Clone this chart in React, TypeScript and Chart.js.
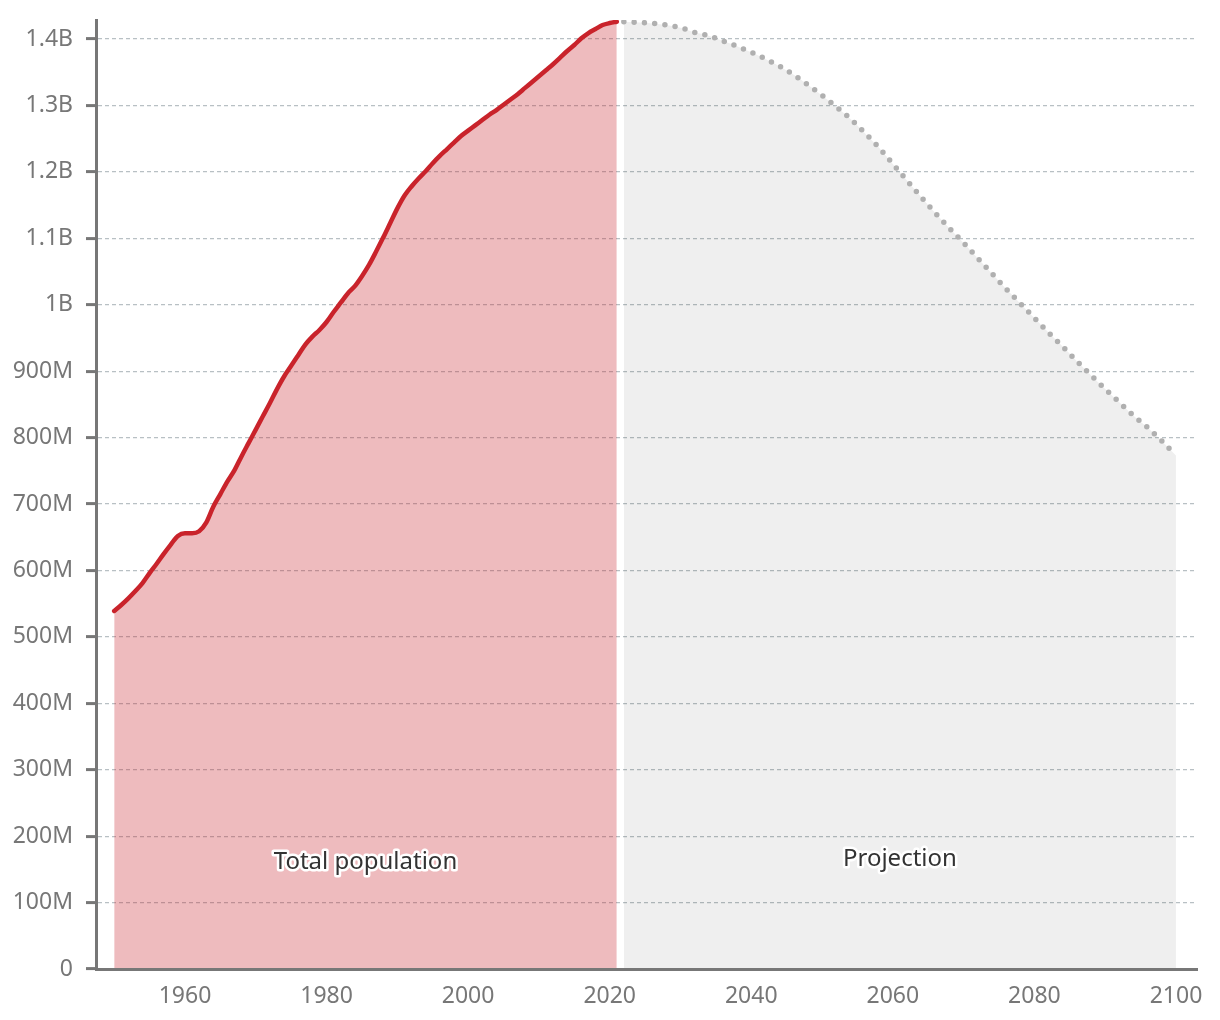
import React, { useEffect, useRef } from "react";
import { Chart, registerables } from "chart.js";

Chart.register(...registerables);

// Historical total population (millions), 1950–2021
const HIST_YEARS = [
  1950, 1951, 1952, 1953, 1954, 1955, 1956, 1957, 1958, 1959,
  1960, 1961, 1962, 1963, 1964, 1965, 1966, 1967, 1968, 1969,
  1970, 1971, 1972, 1973, 1974, 1975, 1976, 1977, 1978, 1979,
  1980, 1981, 1982, 1983, 1984, 1985, 1986, 1987, 1988, 1989,
  1990, 1991, 1992, 1993, 1994, 1995, 1996, 1997, 1998, 1999,
  2000, 2001, 2002, 2003, 2004, 2005, 2006, 2007, 2008, 2009,
  2010, 2011, 2012, 2013, 2014, 2015, 2016, 2017, 2018, 2019,
  2020, 2021,
];
const HIST_POP_M = [
  539, 548, 558, 569, 581, 596, 610, 625, 639, 652,
  656, 656, 659, 672, 696, 715, 734, 751, 772, 792,
  812, 832, 852, 873, 892, 908, 924, 940, 952, 962,
  974, 989, 1003, 1017, 1028, 1043, 1060, 1080, 1101, 1123,
  1145, 1164, 1178, 1190, 1201, 1213, 1224, 1234, 1244, 1254,
  1262, 1270, 1278, 1286, 1293, 1301, 1309, 1317, 1326, 1335,
  1344, 1353, 1362, 1372, 1382, 1391, 1401, 1409, 1415, 1421,
  1424, 1426,
];

// Projection (millions), 2022–2100
const PROJ_YEARS = [
  2022, 2025, 2028, 2030, 2032, 2034, 2036, 2038, 2040, 2042,
  2044, 2046, 2048, 2050, 2052, 2054, 2056, 2058, 2060, 2062,
  2064, 2066, 2068, 2070, 2072, 2074, 2076, 2078, 2080, 2082,
  2084, 2086, 2088, 2090, 2092, 2094, 2096, 2098, 2100,
];
const PROJ_POP_M = [
  1426, 1424.5, 1421, 1417, 1410, 1405, 1397, 1389, 1380, 1370,
  1359, 1346, 1331, 1315, 1298, 1280, 1259, 1237, 1212, 1187,
  1162, 1138, 1115, 1093, 1070, 1047, 1024, 1002, 980, 958,
  937, 915, 894, 873, 853, 833, 815, 795, 773,
];

const X_TICKS = [1960, 1980, 2000, 2020, 2040, 2060, 2080, 2100];
const Y_TICKS = [
  0, 100e6, 200e6, 300e6, 400e6, 500e6, 600e6, 700e6,
  800e6, 900e6, 1000e6, 1100e6, 1200e6, 1300e6, 1400e6,
];
const Y_TICK_LABELS = [
  "0", "100M", "200M", "300M", "400M", "500M", "600M", "700M",
  "800M", "900M", "1B", "1.1B", "1.2B", "1.3B", "1.4B",
];
const SERIES_LABELS = ["Total population", "Projection"];
const SERIES_LABEL_Y = [150e6, 155e6];

const X_MIN = 1947.43;
const X_MAX = 2102.97;
const Y_MAX = 1428.6e6;

const TICK_FONT = { family: "'Noto Sans', sans-serif", size: 23 };

const seriesLabelPlugin = {
  id: "seriesLabels",
  afterDatasetsDraw(chart: any) {
    const { ctx, scales } = chart;
    const ranges = [HIST_YEARS, PROJ_YEARS];
    ctx.save();
    ctx.font = "24px 'Noto Sans', sans-serif";
    ctx.textAlign = "center";
    ctx.textBaseline = "alphabetic";
    ctx.lineJoin = "round";
    SERIES_LABELS.forEach((text, i) => {
      const yrs = ranges[i];
      const mid = (yrs[0] + yrs[yrs.length - 1]) / 2;
      const x = scales.x.getPixelForValue(mid);
      const y = scales.y.getPixelForValue(SERIES_LABEL_Y[i]);
      ctx.strokeStyle = "#ffffff";
      ctx.lineWidth = 5;
      ctx.strokeText(text, x, y);
      ctx.fillStyle = "#333333";
      ctx.fillText(text, x, y);
    });
    ctx.restore();
  },
};

export default function App() {
  const canvasRef = useRef<HTMLCanvasElement | null>(null);

  useEffect(() => {
    document.body.style.margin = "0";
    const canvas = canvasRef.current;
    if (!canvas) return;

    const hist = HIST_YEARS.map((x, i) => ({ x, y: HIST_POP_M[i] * 1e6 }));
    const proj = PROJ_YEARS.map((x, i) => ({ x, y: PROJ_POP_M[i] * 1e6 }));

    const chart = new Chart(canvas, {
      type: "line",
      data: {
        datasets: [
          {
            label: SERIES_LABELS[1],
            data: proj,
            borderColor: "#b0b0b0",
            borderWidth: 5.5,
            borderDash: [0, 10.3],
            borderCapStyle: "round",
            backgroundColor: "rgba(0,0,0,0.062)",
            fill: "origin",
            pointRadius: 0,
            cubicInterpolationMode: "monotone",
          },
          {
            label: SERIES_LABELS[0],
            data: hist,
            borderColor: "#c9232b",
            borderWidth: 4.5,
            borderCapStyle: "round",
            borderJoinStyle: "round",
            backgroundColor: "rgba(200,35,44,0.31)",
            fill: "origin",
            pointRadius: 0,
            cubicInterpolationMode: "monotone",
          },
        ],
      },
      options: {
        responsive: false,
        animation: false,
        devicePixelRatio: 1,
        layout: { padding: { left: 0, right: 23, top: 20, bottom: 0 } },
        plugins: {
          legend: { display: false },
          tooltip: { enabled: false },
        },
        scales: {
          x: {
            type: "linear",
            min: X_MIN,
            max: X_MAX,
            afterBuildTicks: (scale: any) => {
              scale.ticks = X_TICKS.map((v) => ({ value: v }));
            },
            afterFit: (scale: any) => {
              scale.height = 51;
              scale.paddingLeft = 0;
              scale.paddingRight = 0;
            },
            grid: { display: true, drawOnChartArea: false, drawTicks: false },
            border: { display: true, color: "#777777", width: 3, z: 1 },
            ticks: {
              color: "#777777",
              font: TICK_FONT,
              padding: 14,
              maxRotation: 0,
              autoSkip: false,
              callback: (v: any) => String(v),
            },
          },
          y: {
            type: "linear",
            min: 0,
            max: Y_MAX,
            afterBuildTicks: (scale: any) => {
              scale.ticks = Y_TICKS.map((v) => ({ value: v }));
            },
            afterFit: (scale: any) => {
              scale.width = 96;
              scale.paddingTop = 0;
              scale.paddingBottom = 0;
            },
            grid: {
              color: "#b8c0c4",
              lineWidth: 1.2,
              drawTicks: true,
              tickLength: 10,
              tickColor: "#777777",
              tickWidth: 3,
              tickBorderDash: [],
            },
            border: { display: true, color: "#777777", width: 3, dash: [4, 3], z: 1 },
            ticks: {
              color: "#777777",
              font: TICK_FONT,
              padding: 13,
              autoSkip: false,
              callback: (v: any) => {
                const i = Y_TICKS.indexOf(v);
                return i >= 0 ? Y_TICK_LABELS[i] : "";
              },
            },
          },
        },
      },
      plugins: [seriesLabelPlugin],
    });

    return () => chart.destroy();
  }, []);

  return (
    <div style={{ width: 1220, height: 1020, position: "relative" }}>
      <canvas ref={canvasRef} width={1220} height={1020} style={{ display: "block" }} />
    </div>
  );
}
